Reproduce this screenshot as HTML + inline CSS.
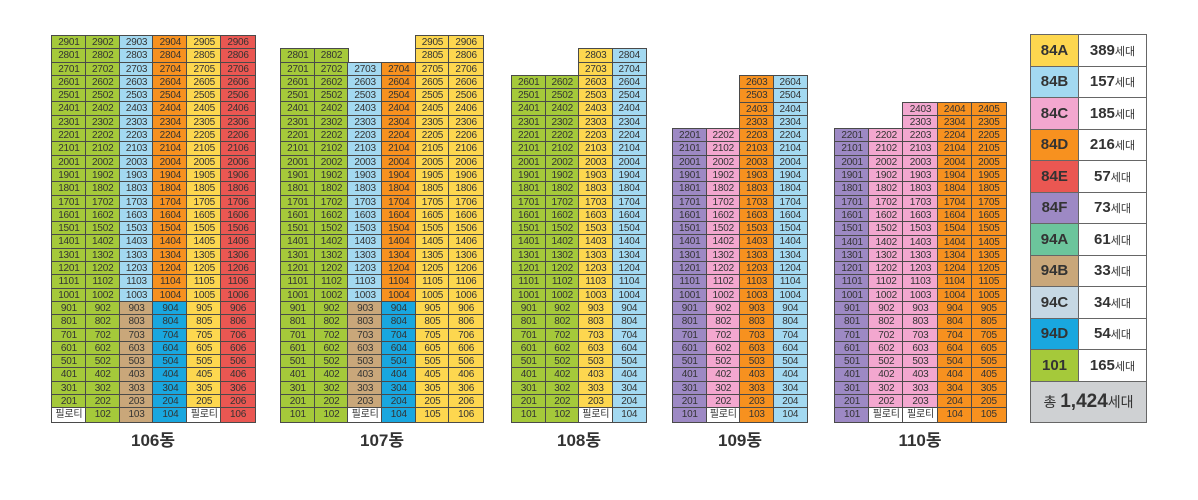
<!DOCTYPE html>
<html><head><meta charset="utf-8"><style>
body{margin:0;width:1198px;height:500px;background:#fff;position:relative;overflow:hidden;font-family:"Liberation Sans","Noto Sans CJK KR",sans-serif}
.bd{position:absolute;display:grid;grid-auto-rows:13.31px}
.bd i{font-style:normal;font-size:10px;color:#333;text-align:center;line-height:13.31px;outline:1px solid #4a4a4a;outline-offset:-0.5px;overflow:hidden;white-space:nowrap;letter-spacing:-0.2px}
.bd i.e{outline:none;background:none}
.g{background:#a5c93a}.y{background:#fdd74f}.b{background:#a3d9f1}.o{background:#f7911f}.r{background:#ea5752}.p{background:#9d89c4}.k{background:#f3a7cf}.t{background:#c9a77a}.d{background:#19a7df}.w{background:#fff}
.lb{position:absolute;top:426px;font-weight:bold;font-size:17px;color:#333;text-align:center;width:120px}
.lg{position:absolute;left:1030px;top:34px;border-collapse:collapse;width:117px}
.lg td{border:1px solid #666;height:30.5px;padding:0;text-align:center;font-weight:bold;font-size:15px;color:#333}
.lg td.n{width:47px}
.lg small{font-size:11px;font-weight:normal}
</style></head><body>

<div class="bd" style="left:52px;top:36px;grid-template-columns:repeat(6,33.83px)">
<i class=g>2901</i><i class=g>2902</i><i class=b>2903</i><i class=o>2904</i><i class=y>2905</i><i class=r>2906</i>
<i class=g>2801</i><i class=g>2802</i><i class=b>2803</i><i class=o>2804</i><i class=y>2805</i><i class=r>2806</i>
<i class=g>2701</i><i class=g>2702</i><i class=b>2703</i><i class=o>2704</i><i class=y>2705</i><i class=r>2706</i>
<i class=g>2601</i><i class=g>2602</i><i class=b>2603</i><i class=o>2604</i><i class=y>2605</i><i class=r>2606</i>
<i class=g>2501</i><i class=g>2502</i><i class=b>2503</i><i class=o>2504</i><i class=y>2505</i><i class=r>2506</i>
<i class=g>2401</i><i class=g>2402</i><i class=b>2403</i><i class=o>2404</i><i class=y>2405</i><i class=r>2406</i>
<i class=g>2301</i><i class=g>2302</i><i class=b>2303</i><i class=o>2304</i><i class=y>2305</i><i class=r>2306</i>
<i class=g>2201</i><i class=g>2202</i><i class=b>2203</i><i class=o>2204</i><i class=y>2205</i><i class=r>2206</i>
<i class=g>2101</i><i class=g>2102</i><i class=b>2103</i><i class=o>2104</i><i class=y>2105</i><i class=r>2106</i>
<i class=g>2001</i><i class=g>2002</i><i class=b>2003</i><i class=o>2004</i><i class=y>2005</i><i class=r>2006</i>
<i class=g>1901</i><i class=g>1902</i><i class=b>1903</i><i class=o>1904</i><i class=y>1905</i><i class=r>1906</i>
<i class=g>1801</i><i class=g>1802</i><i class=b>1803</i><i class=o>1804</i><i class=y>1805</i><i class=r>1806</i>
<i class=g>1701</i><i class=g>1702</i><i class=b>1703</i><i class=o>1704</i><i class=y>1705</i><i class=r>1706</i>
<i class=g>1601</i><i class=g>1602</i><i class=b>1603</i><i class=o>1604</i><i class=y>1605</i><i class=r>1606</i>
<i class=g>1501</i><i class=g>1502</i><i class=b>1503</i><i class=o>1504</i><i class=y>1505</i><i class=r>1506</i>
<i class=g>1401</i><i class=g>1402</i><i class=b>1403</i><i class=o>1404</i><i class=y>1405</i><i class=r>1406</i>
<i class=g>1301</i><i class=g>1302</i><i class=b>1303</i><i class=o>1304</i><i class=y>1305</i><i class=r>1306</i>
<i class=g>1201</i><i class=g>1202</i><i class=b>1203</i><i class=o>1204</i><i class=y>1205</i><i class=r>1206</i>
<i class=g>1101</i><i class=g>1102</i><i class=b>1103</i><i class=o>1104</i><i class=y>1105</i><i class=r>1106</i>
<i class=g>1001</i><i class=g>1002</i><i class=b>1003</i><i class=o>1004</i><i class=y>1005</i><i class=r>1006</i>
<i class=g>901</i><i class=g>902</i><i class=t>903</i><i class=d>904</i><i class=y>905</i><i class=r>906</i>
<i class=g>801</i><i class=g>802</i><i class=t>803</i><i class=d>804</i><i class=y>805</i><i class=r>806</i>
<i class=g>701</i><i class=g>702</i><i class=t>703</i><i class=d>704</i><i class=y>705</i><i class=r>706</i>
<i class=g>601</i><i class=g>602</i><i class=t>603</i><i class=d>604</i><i class=y>605</i><i class=r>606</i>
<i class=g>501</i><i class=g>502</i><i class=t>503</i><i class=d>504</i><i class=y>505</i><i class=r>506</i>
<i class=g>401</i><i class=g>402</i><i class=t>403</i><i class=d>404</i><i class=y>405</i><i class=r>406</i>
<i class=g>301</i><i class=g>302</i><i class=t>303</i><i class=d>304</i><i class=y>305</i><i class=r>306</i>
<i class=g>201</i><i class=g>202</i><i class=t>203</i><i class=d>204</i><i class=y>205</i><i class=r>206</i>
<i class=w>필로티</i><i class=g>102</i><i class=t>103</i><i class=d>104</i><i class=w>필로티</i><i class=r>106</i>
</div>
<div class="lb" style="left:93px">106동</div>

<div class="bd" style="left:281px;top:36px;grid-template-columns:repeat(6,33.67px)">
<i class=e></i><i class=e></i><i class=e></i><i class=e></i><i class=y>2905</i><i class=y>2906</i>
<i class=g>2801</i><i class=g>2802</i><i class=e></i><i class=e></i><i class=y>2805</i><i class=y>2806</i>
<i class=g>2701</i><i class=g>2702</i><i class=b>2703</i><i class=o>2704</i><i class=y>2705</i><i class=y>2706</i>
<i class=g>2601</i><i class=g>2602</i><i class=b>2603</i><i class=o>2604</i><i class=y>2605</i><i class=y>2606</i>
<i class=g>2501</i><i class=g>2502</i><i class=b>2503</i><i class=o>2504</i><i class=y>2505</i><i class=y>2506</i>
<i class=g>2401</i><i class=g>2402</i><i class=b>2403</i><i class=o>2404</i><i class=y>2405</i><i class=y>2406</i>
<i class=g>2301</i><i class=g>2302</i><i class=b>2303</i><i class=o>2304</i><i class=y>2305</i><i class=y>2306</i>
<i class=g>2201</i><i class=g>2202</i><i class=b>2203</i><i class=o>2204</i><i class=y>2205</i><i class=y>2206</i>
<i class=g>2101</i><i class=g>2102</i><i class=b>2103</i><i class=o>2104</i><i class=y>2105</i><i class=y>2106</i>
<i class=g>2001</i><i class=g>2002</i><i class=b>2003</i><i class=o>2004</i><i class=y>2005</i><i class=y>2006</i>
<i class=g>1901</i><i class=g>1902</i><i class=b>1903</i><i class=o>1904</i><i class=y>1905</i><i class=y>1906</i>
<i class=g>1801</i><i class=g>1802</i><i class=b>1803</i><i class=o>1804</i><i class=y>1805</i><i class=y>1806</i>
<i class=g>1701</i><i class=g>1702</i><i class=b>1703</i><i class=o>1704</i><i class=y>1705</i><i class=y>1706</i>
<i class=g>1601</i><i class=g>1602</i><i class=b>1603</i><i class=o>1604</i><i class=y>1605</i><i class=y>1606</i>
<i class=g>1501</i><i class=g>1502</i><i class=b>1503</i><i class=o>1504</i><i class=y>1505</i><i class=y>1506</i>
<i class=g>1401</i><i class=g>1402</i><i class=b>1403</i><i class=o>1404</i><i class=y>1405</i><i class=y>1406</i>
<i class=g>1301</i><i class=g>1302</i><i class=b>1303</i><i class=o>1304</i><i class=y>1305</i><i class=y>1306</i>
<i class=g>1201</i><i class=g>1202</i><i class=b>1203</i><i class=o>1204</i><i class=y>1205</i><i class=y>1206</i>
<i class=g>1101</i><i class=g>1102</i><i class=b>1103</i><i class=o>1104</i><i class=y>1105</i><i class=y>1106</i>
<i class=g>1001</i><i class=g>1002</i><i class=b>1003</i><i class=o>1004</i><i class=y>1005</i><i class=y>1006</i>
<i class=g>901</i><i class=g>902</i><i class=t>903</i><i class=d>904</i><i class=y>905</i><i class=y>906</i>
<i class=g>801</i><i class=g>802</i><i class=t>803</i><i class=d>804</i><i class=y>805</i><i class=y>806</i>
<i class=g>701</i><i class=g>702</i><i class=t>703</i><i class=d>704</i><i class=y>705</i><i class=y>706</i>
<i class=g>601</i><i class=g>602</i><i class=t>603</i><i class=d>604</i><i class=y>605</i><i class=y>606</i>
<i class=g>501</i><i class=g>502</i><i class=t>503</i><i class=d>504</i><i class=y>505</i><i class=y>506</i>
<i class=g>401</i><i class=g>402</i><i class=t>403</i><i class=d>404</i><i class=y>405</i><i class=y>406</i>
<i class=g>301</i><i class=g>302</i><i class=t>303</i><i class=d>304</i><i class=y>305</i><i class=y>306</i>
<i class=g>201</i><i class=g>202</i><i class=t>203</i><i class=d>204</i><i class=y>205</i><i class=y>206</i>
<i class=g>101</i><i class=g>102</i><i class=w>필로티</i><i class=d>104</i><i class=y>105</i><i class=y>106</i>
</div>
<div class="lb" style="left:322px">107동</div>

<div class="bd" style="left:512px;top:49.31px;grid-template-columns:repeat(4,33.5px)">
<i class=e></i><i class=e></i><i class=y>2803</i><i class=b>2804</i>
<i class=e></i><i class=e></i><i class=y>2703</i><i class=b>2704</i>
<i class=g>2601</i><i class=g>2602</i><i class=y>2603</i><i class=b>2604</i>
<i class=g>2501</i><i class=g>2502</i><i class=y>2503</i><i class=b>2504</i>
<i class=g>2401</i><i class=g>2402</i><i class=y>2403</i><i class=b>2404</i>
<i class=g>2301</i><i class=g>2302</i><i class=y>2303</i><i class=b>2304</i>
<i class=g>2201</i><i class=g>2202</i><i class=y>2203</i><i class=b>2204</i>
<i class=g>2101</i><i class=g>2102</i><i class=y>2103</i><i class=b>2104</i>
<i class=g>2001</i><i class=g>2002</i><i class=y>2003</i><i class=b>2004</i>
<i class=g>1901</i><i class=g>1902</i><i class=y>1903</i><i class=b>1904</i>
<i class=g>1801</i><i class=g>1802</i><i class=y>1803</i><i class=b>1804</i>
<i class=g>1701</i><i class=g>1702</i><i class=y>1703</i><i class=b>1704</i>
<i class=g>1601</i><i class=g>1602</i><i class=y>1603</i><i class=b>1604</i>
<i class=g>1501</i><i class=g>1502</i><i class=y>1503</i><i class=b>1504</i>
<i class=g>1401</i><i class=g>1402</i><i class=y>1403</i><i class=b>1404</i>
<i class=g>1301</i><i class=g>1302</i><i class=y>1303</i><i class=b>1304</i>
<i class=g>1201</i><i class=g>1202</i><i class=y>1203</i><i class=b>1204</i>
<i class=g>1101</i><i class=g>1102</i><i class=y>1103</i><i class=b>1104</i>
<i class=g>1001</i><i class=g>1002</i><i class=y>1003</i><i class=b>1004</i>
<i class=g>901</i><i class=g>902</i><i class=y>903</i><i class=b>904</i>
<i class=g>801</i><i class=g>802</i><i class=y>803</i><i class=b>804</i>
<i class=g>701</i><i class=g>702</i><i class=y>703</i><i class=b>704</i>
<i class=g>601</i><i class=g>602</i><i class=y>603</i><i class=b>604</i>
<i class=g>501</i><i class=g>502</i><i class=y>503</i><i class=b>504</i>
<i class=g>401</i><i class=g>402</i><i class=y>403</i><i class=b>404</i>
<i class=g>301</i><i class=g>302</i><i class=y>303</i><i class=b>304</i>
<i class=g>201</i><i class=g>202</i><i class=y>203</i><i class=b>204</i>
<i class=g>101</i><i class=g>102</i><i class=w>필로티</i><i class=b>104</i>
</div>
<div class="lb" style="left:519px">108동</div>

<div class="bd" style="left:673px;top:75.93px;grid-template-columns:repeat(4,33.5px)">
<i class=e></i><i class=e></i><i class=o>2603</i><i class=b>2604</i>
<i class=e></i><i class=e></i><i class=o>2503</i><i class=b>2504</i>
<i class=e></i><i class=e></i><i class=o>2403</i><i class=b>2404</i>
<i class=e></i><i class=e></i><i class=o>2303</i><i class=b>2304</i>
<i class=p>2201</i><i class=k>2202</i><i class=o>2203</i><i class=b>2204</i>
<i class=p>2101</i><i class=k>2102</i><i class=o>2103</i><i class=b>2104</i>
<i class=p>2001</i><i class=k>2002</i><i class=o>2003</i><i class=b>2004</i>
<i class=p>1901</i><i class=k>1902</i><i class=o>1903</i><i class=b>1904</i>
<i class=p>1801</i><i class=k>1802</i><i class=o>1803</i><i class=b>1804</i>
<i class=p>1701</i><i class=k>1702</i><i class=o>1703</i><i class=b>1704</i>
<i class=p>1601</i><i class=k>1602</i><i class=o>1603</i><i class=b>1604</i>
<i class=p>1501</i><i class=k>1502</i><i class=o>1503</i><i class=b>1504</i>
<i class=p>1401</i><i class=k>1402</i><i class=o>1403</i><i class=b>1404</i>
<i class=p>1301</i><i class=k>1302</i><i class=o>1303</i><i class=b>1304</i>
<i class=p>1201</i><i class=k>1202</i><i class=o>1203</i><i class=b>1204</i>
<i class=p>1101</i><i class=k>1102</i><i class=o>1103</i><i class=b>1104</i>
<i class=p>1001</i><i class=k>1002</i><i class=o>1003</i><i class=b>1004</i>
<i class=p>901</i><i class=k>902</i><i class=o>903</i><i class=b>904</i>
<i class=p>801</i><i class=k>802</i><i class=o>803</i><i class=b>804</i>
<i class=p>701</i><i class=k>702</i><i class=o>703</i><i class=b>704</i>
<i class=p>601</i><i class=k>602</i><i class=o>603</i><i class=b>604</i>
<i class=p>501</i><i class=k>502</i><i class=o>503</i><i class=b>504</i>
<i class=p>401</i><i class=k>402</i><i class=o>403</i><i class=b>404</i>
<i class=p>301</i><i class=k>302</i><i class=o>303</i><i class=b>304</i>
<i class=p>201</i><i class=k>202</i><i class=o>203</i><i class=b>204</i>
<i class=p>101</i><i class=w>필로티</i><i class=o>103</i><i class=b>104</i>
</div>
<div class="lb" style="left:680px">109동</div>

<div class="bd" style="left:835px;top:102.55px;grid-template-columns:repeat(5,34.2px)">
<i class=e></i><i class=e></i><i class=k>2403</i><i class=o>2404</i><i class=o>2405</i>
<i class=e></i><i class=e></i><i class=k>2303</i><i class=o>2304</i><i class=o>2305</i>
<i class=p>2201</i><i class=k>2202</i><i class=k>2203</i><i class=o>2204</i><i class=o>2205</i>
<i class=p>2101</i><i class=k>2102</i><i class=k>2103</i><i class=o>2104</i><i class=o>2105</i>
<i class=p>2001</i><i class=k>2002</i><i class=k>2003</i><i class=o>2004</i><i class=o>2005</i>
<i class=p>1901</i><i class=k>1902</i><i class=k>1903</i><i class=o>1904</i><i class=o>1905</i>
<i class=p>1801</i><i class=k>1802</i><i class=k>1803</i><i class=o>1804</i><i class=o>1805</i>
<i class=p>1701</i><i class=k>1702</i><i class=k>1703</i><i class=o>1704</i><i class=o>1705</i>
<i class=p>1601</i><i class=k>1602</i><i class=k>1603</i><i class=o>1604</i><i class=o>1605</i>
<i class=p>1501</i><i class=k>1502</i><i class=k>1503</i><i class=o>1504</i><i class=o>1505</i>
<i class=p>1401</i><i class=k>1402</i><i class=k>1403</i><i class=o>1404</i><i class=o>1405</i>
<i class=p>1301</i><i class=k>1302</i><i class=k>1303</i><i class=o>1304</i><i class=o>1305</i>
<i class=p>1201</i><i class=k>1202</i><i class=k>1203</i><i class=o>1204</i><i class=o>1205</i>
<i class=p>1101</i><i class=k>1102</i><i class=k>1103</i><i class=o>1104</i><i class=o>1105</i>
<i class=p>1001</i><i class=k>1002</i><i class=k>1003</i><i class=o>1004</i><i class=o>1005</i>
<i class=p>901</i><i class=k>902</i><i class=k>903</i><i class=o>904</i><i class=o>905</i>
<i class=p>801</i><i class=k>802</i><i class=k>803</i><i class=o>804</i><i class=o>805</i>
<i class=p>701</i><i class=k>702</i><i class=k>703</i><i class=o>704</i><i class=o>705</i>
<i class=p>601</i><i class=k>602</i><i class=k>603</i><i class=o>604</i><i class=o>605</i>
<i class=p>501</i><i class=k>502</i><i class=k>503</i><i class=o>504</i><i class=o>505</i>
<i class=p>401</i><i class=k>402</i><i class=k>403</i><i class=o>404</i><i class=o>405</i>
<i class=p>301</i><i class=k>302</i><i class=k>303</i><i class=o>304</i><i class=o>305</i>
<i class=p>201</i><i class=k>202</i><i class=k>203</i><i class=o>204</i><i class=o>205</i>
<i class=p>101</i><i class=w>필로티</i><i class=w>필로티</i><i class=o>104</i><i class=o>105</i>
</div>
<div class="lb" style="left:860px">110동</div>

<table class="lg">
<tr><td class="n y">84A</td><td>389<small>세대</small></td></tr>
<tr><td class="n b">84B</td><td>157<small>세대</small></td></tr>
<tr><td class="n k">84C</td><td>185<small>세대</small></td></tr>
<tr><td class="n o">84D</td><td>216<small>세대</small></td></tr>
<tr><td class="n r">84E</td><td>57<small>세대</small></td></tr>
<tr><td class="n p">84F</td><td>73<small>세대</small></td></tr>
<tr><td class="n" style="background:#6cc59c">94A</td><td>61<small>세대</small></td></tr>
<tr><td class="n t">94B</td><td>33<small>세대</small></td></tr>
<tr><td class="n" style="background:#c6d8e4">94C</td><td>34<small>세대</small></td></tr>
<tr><td class="n d">94D</td><td>54<small>세대</small></td></tr>
<tr><td class="n g">101</td><td>165<small>세대</small></td></tr>
<tr><td colspan="2" style="background:#cfd1d3;height:40px;font-size:19px"><small style="font-size:14px">총 </small>1,424<small style="font-size:14px">세대</small></td></tr>
</table>
</body></html>
